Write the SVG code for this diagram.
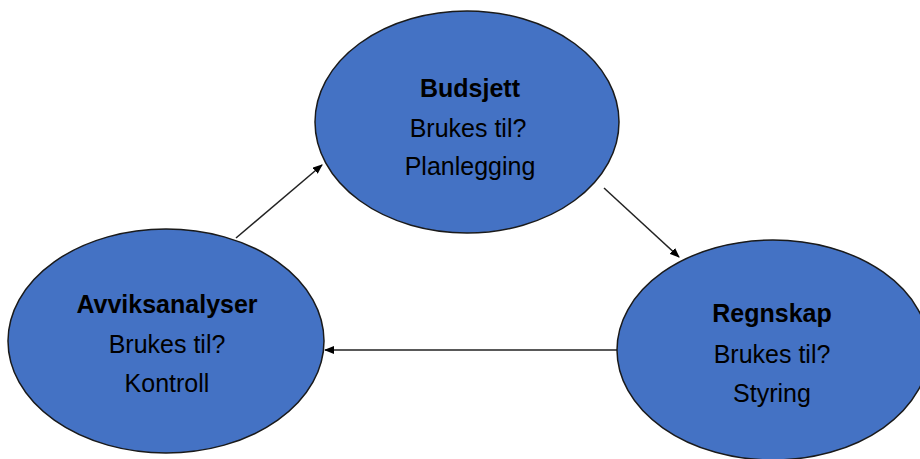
<svg xmlns="http://www.w3.org/2000/svg" width="920" height="459" viewBox="0 0 920 459">
<defs>
<marker id="ah" markerWidth="10" markerHeight="8" refX="9" refY="4" orient="auto" markerUnits="userSpaceOnUse">
<path d="M0,0 L10,4 L0,8 Z" fill="#000"/>
</marker>
<style>
.node{fill:#4472C4;stroke:#1a1a1a;stroke-width:1.5}
.t{font-family:"Liberation Sans",Arial,sans-serif;font-size:25px;fill:#000;text-anchor:middle}
.b{font-weight:bold}
.c{stroke:#222;stroke-width:1.5;fill:none;marker-end:url(#ah)}
</style>
</defs>
<rect width="920" height="459" fill="#fff"/>
<g id="connectors">
<line class="c" x1="236" y1="238" x2="322" y2="165"/>
<line class="c" x1="604" y1="188" x2="679" y2="257"/>
<line class="c" x1="618" y1="350" x2="325" y2="350"/>
</g>
<g id="budsjett">
<ellipse class="node" cx="467" cy="122" rx="152" ry="111"/>
<text class="t b" x="470" y="97">Budsjett</text>
<text class="t" x="468" y="137">Brukes til?</text>
<text class="t" x="470" y="175">Planlegging</text>
</g>
<g id="avviksanalyser">
<ellipse class="node" cx="166" cy="341" rx="158" ry="112"/>
<text class="t b" x="167" y="313">Avviksanalyser</text>
<text class="t" x="167" y="353">Brukes til?</text>
<text class="t" x="167" y="392">Kontroll</text>
</g>
<g id="regnskap">
<ellipse class="node" cx="773" cy="350" rx="156" ry="110"/>
<text class="t b" x="772" y="322">Regnskap</text>
<text class="t" x="772" y="363">Brukes til?</text>
<text class="t" x="772" y="402">Styring</text>
</g>
</svg>
